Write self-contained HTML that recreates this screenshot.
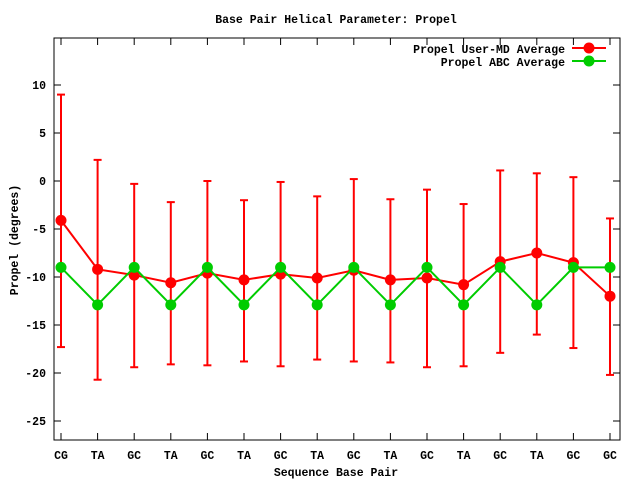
<!DOCTYPE html>
<html><head><meta charset="utf-8"><style>
html,body{margin:0;padding:0;background:#fff;}
svg text{font-family:"Liberation Mono","DejaVu Sans Mono",monospace;font-size:11.5px;font-weight:bold;fill:#000;}
</style></head><body>
<svg id="s" width="640" height="480" xmlns="http://www.w3.org/2000/svg"></svg>
<script>
var s=document.getElementById('s');
var L=54,R=620,T=38,B=440;
function X(i){return 61+i*36.6;}
function Y(v){return 181-9.6*v;}
var h='';
h+='<rect x="'+L+'" y="'+T+'" width="'+(R-L)+'" height="'+(B-T)+'" fill="none" stroke="#000" stroke-width="1"/>';
h+='<text x="336" y="23" text-anchor="middle">Base Pair Helical Parameter: Propel</text>';
for(var v=-25;v<=10;v+=5){var y=Y(v);
h+='<line x1="'+L+'" y1="'+y+'" x2="'+(L+7)+'" y2="'+y+'" stroke="#000"/><line x1="'+R+'" y1="'+y+'" x2="'+(R-7)+'" y2="'+y+'" stroke="#000"/>';
h+='<text x="'+(L-8)+'" y="'+(y+4)+'" text-anchor="end">'+v+'</text>';}
var lab=['CG','TA','GC','TA','GC','TA','GC','TA','GC','TA','GC','TA','GC','TA','GC','GC'];
for(var i=0;i<16;i++){var x=X(i);
h+='<line x1="'+x+'" y1="'+B+'" x2="'+x+'" y2="'+(B-7)+'" stroke="#000"/><line x1="'+x+'" y1="'+T+'" x2="'+x+'" y2="'+(T+7)+'" stroke="#000"/>';
h+='<text x="'+x+'" y="459" text-anchor="middle">'+lab[i]+'</text>';}
h+='<text x="336" y="476" text-anchor="middle">Sequence Base Pair</text>';
h+='<text transform="translate(18,240) rotate(-90)" text-anchor="middle">Propel (degrees)</text>';
var r=[-4.1,-9.2,-9.8,-10.6,-9.6,-10.3,-9.7,-10.1,-9.3,-10.3,-10.1,-10.8,-8.4,-7.5,-8.5,-12.0];
var hi=[9,2.2,-0.3,-2.2,0,-2,-0.1,-1.6,0.2,-1.9,-0.9,-2.4,1.1,0.8,0.4,-3.9];
var lo=[-17.3,-20.7,-19.4,-19.1,-19.2,-18.8,-19.3,-18.6,-18.8,-18.9,-19.4,-19.3,-17.9,-16,-17.4,-20.2];
var g=[];for(i=0;i<16;i++)g.push(i==15?-9:(i%2?-12.9:-9));
for(i=0;i<16;i++){x=X(i);
h+='<line x1="'+x+'" y1="'+Y(hi[i])+'" x2="'+x+'" y2="'+Y(lo[i])+'" stroke="#f00" stroke-width="2"/>';
h+='<line x1="'+(x-4)+'" y1="'+Y(hi[i])+'" x2="'+(x+4)+'" y2="'+Y(hi[i])+'" stroke="#f00" stroke-width="2"/>';
h+='<line x1="'+(x-4)+'" y1="'+Y(lo[i])+'" x2="'+(x+4)+'" y2="'+Y(lo[i])+'" stroke="#f00" stroke-width="2"/>';}
function poly(d,c){var p=d.map(function(v,i){return X(i)+','+Y(v)}).join(' ');
var o='<polyline points="'+p+'" fill="none" stroke="'+c+'" stroke-width="2"/>';
d.forEach(function(v,i){o+='<circle cx="'+X(i)+'" cy="'+Y(v)+'" r="5.5" fill="'+c+'"/>';});return o;}
h+=poly(r,'#f00');h+=poly(g,'#0c0');
h+='<text x="565" y="53" text-anchor="end">Propel User-MD Average</text>';
h+='<line x1="572" y1="48" x2="606" y2="48" stroke="#f00" stroke-width="2"/><circle cx="589" cy="48" r="5.5" fill="#f00"/>';
h+='<text x="565" y="66" text-anchor="end">Propel ABC Average</text>';
h+='<line x1="572" y1="61" x2="606" y2="61" stroke="#0c0" stroke-width="2"/><circle cx="589" cy="61" r="5.5" fill="#0c0"/>';
s.innerHTML=h;
</script>
</body></html>
